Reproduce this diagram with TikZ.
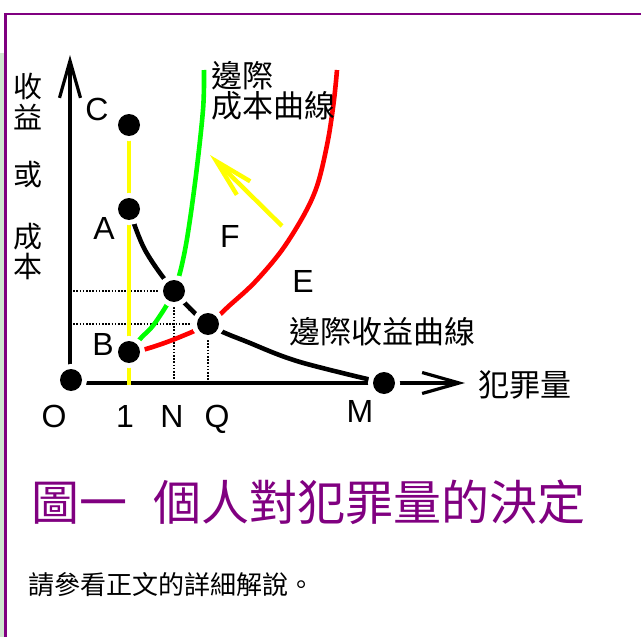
\documentclass[tikz,border=0pt]{standalone}
\usepackage{fontspec}
\setmainfont{Liberation Sans}
\newfontfamily\cjk{Noto Sans CJK TC}
\usetikzlibrary{arrows.meta}
\definecolor{framepurple}{RGB}{128,0,128}
\definecolor{stripgreen}{RGB}{208,230,208}
\definecolor{ylw}{RGB}{255,255,0}
\definecolor{grn}{RGB}{0,255,0}
\definecolor{rd}{RGB}{255,0,0}
\begin{document}
\begin{tikzpicture}[x=1pt,y=-1pt,
  dot/.style={circle,fill=black,inner sep=0pt,minimum size=22pt,preaction={draw=white,line width=10pt}},
  axisline/.style={line width=3.4pt,-{Straight Barb[length=37pt,width=21pt,line width=3.2pt]}},
  dotline/.style={line width=1.3pt,dash pattern=on 1.6pt off 1.6pt},
  curve/.style={line width=4.6pt},
  yarrow/.style={ylw,line width=4.4pt,-{Straight Barb[length=38pt,width=19pt,line width=4.4pt]}},
  lbl/.style={inner sep=0pt,anchor=base,font=\fontsize{32pt}{32pt}\selectfont},
  cjklbl/.style={inner sep=0pt,anchor=west,font=\cjk\fontsize{31pt}{31pt}\selectfont},
  vlbl/.style={inner sep=0pt,font=\cjk\fontsize{29pt}{29pt}\selectfont},
]
\useasboundingbox (0,0) rectangle (641,637);
% frame
\fill[stripgreen] (0,53) rectangle (3.5,637);
\draw[framepurple,line width=2.5pt] (5.5,637) -- (5.5,14) -- (641,14);

% coordinates
\coordinate (pO) at (71,380);
\coordinate (xo) at (71,383);
\coordinate (yo) at (70,380);
\coordinate (ytip) at (70,55);
\coordinate (xtip) at (465,383);
\coordinate (pC) at (129,125);
\coordinate (pA) at (129,209);
\coordinate (pB) at (129,352);
\coordinate (pN) at (174,291);
\coordinate (pQ) at (208,324);
\coordinate (pM) at (384,383);
\coordinate (ybot) at (129,385);
\coordinate (yat) at (282,226);
\coordinate (yah) at (210,155);

% dotted guides
\draw[dotline] (ytip |- pN) -- (pN);
\draw[dotline] (ytip |- pQ) -- (pQ);
\draw[dotline] (pN) -- (pN |- xo);
\draw[dotline] (pQ) -- (pQ |- xo);

% axes
\draw[axisline] (yo) -- (ytip);
\draw[axisline] (xo) -- (xtip);

% yellow vertical
\draw[ylw,line width=4.4pt] (pC) -- (ybot);

% curves
\draw[curve,black] plot[smooth,tension=0.55] coordinates {(pA) (145,250) (pN) (pQ) (250,343) (300,362) (pM)};
\draw[curve,grn] plot[smooth,tension=0.55] coordinates {(pB) (141,338) (155,323) (pN) (185,250) (195,183) (203,110) (204,70)};
\draw[curve,rd] plot[smooth,tension=0.55] coordinates {(pB) (146,349) (175,339) (pQ) (230,305) (255,282) (282,250) (305,213) (318,183) (328,140) (334,100) (337,70)};

% yellow arrow
\draw[yarrow] (yat) -- (yah);

% dots
\node[dot] (O) at (pO) {};
\node[dot] (C) at (pC) {};
\node[dot] (A) at (pA) {};
\node[dot] (B) at (pB) {};
\node[dot] (N) at (pN) {};
\node[dot] (Q) at (pQ) {};
\node[dot] (M) at (pM) {};

% letter labels
\node[lbl] (lC) at (97,120) {C};
\node[lbl] (lA) at (104,239) {A};
\node[lbl] (lB) at (103,355) {B};
\node[lbl] (lF) at (230,247) {F};
\node[lbl] (lE) at (303,292) {E};
\node[lbl] (lO) at (54,427) {O};
\node[lbl] (l1) at (125,427) {1};
\node[lbl] (lN) at (172,427) {N};
\node[lbl] (lQ) at (217,427) {Q};
\node[lbl] (lM) at (360,422) {M};

% vertical axis label
\node[vlbl] (v1) at (28,86) {收};
\node[vlbl] (v2) at (28,117) {益};
\node[vlbl] (v3) at (28,175) {或};
\node[vlbl] (v4) at (28,237) {成};
\node[vlbl] (v5) at (28,266) {本};

% curve labels
\node[cjklbl] (mc1) at (211,76) {邊際};
\node[cjklbl] (mc2) at (211,106) {成本曲線};
\node[cjklbl] (mr) at (289,332) {邊際收益曲線};
\node[cjklbl] (xl) at (478,385) {犯罪量};

% title and note
\node[inner sep=0pt,anchor=west,text=framepurple,font=\cjk\fontsize{48pt}{48pt}\selectfont] (title) at (31,502) {圖一\hspace{26pt}個人對犯罪量的決定};
\node[inner sep=0pt,anchor=west,font=\cjk\fontsize{26pt}{26pt}\selectfont] (note) at (28,585) {請參看正文的詳細解說。};
\end{tikzpicture}
\end{document}
